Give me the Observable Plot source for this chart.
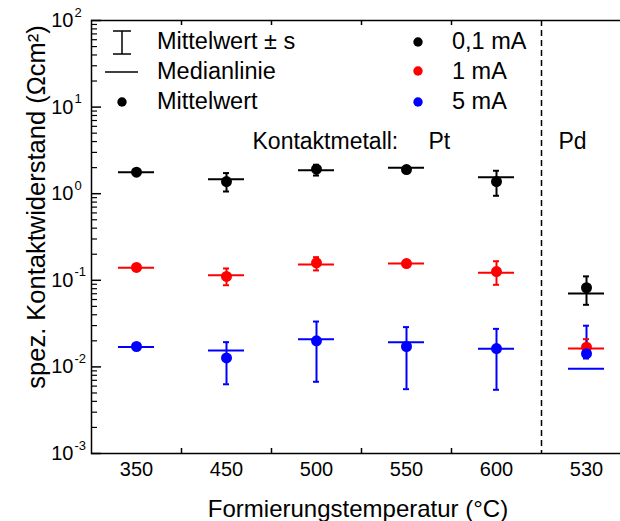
<!DOCTYPE html>
<html><head><meta charset="utf-8">
<script src="https://cdn.jsdelivr.net/npm/d3@7"></script>
<script src="https://cdn.jsdelivr.net/npm/@observablehq/plot@0.6"></script>
<style>
html,body{margin:0;padding:0;background:#fff;overflow:hidden;}
#chart{width:620px;height:521px;overflow:hidden;}
#chart svg{max-width:none !important;}
</style></head><body><div id="chart"></div>
<script>
// categories (Formierungstemperatur) – last one is the Pd sample
const categories = ["350","450","500","550","600","530"];
const series = ["0,1 mA","1 mA","5 mA"];
const colors = ["#000000","#ff0000","#0000ff"];
const legendLabels = ["Mittelwert ± s","Medianlinie","Mittelwert"];

// 0,1 mA
const mean01   = [1.77, 1.38, 1.92, 1.90, 1.38, 0.082];
const median01 = [1.77, 1.47, 1.87, 1.99, 1.55, 0.0705];
const lo01     = [1.68, 1.06, 1.62, 1.82, 0.946, 0.0521];
const hi01     = [1.86, 1.73, 2.16, 1.98, 1.84, 0.111];
// 1 mA
const mean1    = [0.141, 0.111, 0.159, 0.156, 0.126, 0.0169];
const median1  = [0.140, 0.114, 0.152, 0.156, 0.122, 0.0163];
const lo1      = [0.135, 0.0877, 0.130, 0.150, 0.0887, 0.0129];
const hi1      = [0.147, 0.137, 0.185, 0.162, 0.166, 0.0209];
// 5 mA
const mean5    = [0.0172, 0.0127, 0.0200, 0.0172, 0.0163, 0.0142];
const median5  = [0.0170, 0.0155, 0.0209, 0.0193, 0.0162, 0.0095];
const lo5      = [0.0164, 0.0063, 0.00673, 0.00553, 0.00544, 0.0125];
const hi5      = [0.0180, 0.0193, 0.0334, 0.0288, 0.0275, 0.0299];

const yMajor = [1e-3, 1e-2, 1e-1, 1e0, 1e1, 1e2];
const yExponents = ["-3","-2","-1","0","1","2"];
const yMinor = [];
for (let e = -3; e < 2; e++) for (let k = 2; k <= 9; k++) yMinor.push(k * Math.pow(10, e));
const boundaryCats = ["350","450","500","550"];

const table = [];
[[mean01,median01,lo01,hi01],[mean1,median1,lo1,hi1],[mean5,median5,lo5,hi5]].forEach((s, si) => {
  categories.forEach((c, i) => table.push({cat: c, series: series[si], mean: s[0][i], median: s[1][i], lo: s[2][i], hi: s[3][i]}));
});

const font = "Arial, 'Liberation Sans', sans-serif";
const svg = Plot.plot({
  width: 640, height: 521,
  marginLeft: 91, marginRight: 9, marginTop: 20, marginBottom: 68,
  x: {type: "band", domain: categories, paddingInner: 0, paddingOuter: 0, axis: null},
  y: {type: "log", domain: [1e-3, 1e2], axis: null},
  color: {domain: series, range: colors},
  style: {fontFamily: font, background: "white", maxWidth: "none", color: "black"},
  marks: [
    Plot.frame({stroke: "black", strokeWidth: 1.5}),
    Plot.ruleY(yMinor, {y: d => d, insetRight: 534, stroke: "black", strokeWidth: 1.2}),
    Plot.ruleY(yMajor, {y: d => d, insetRight: 530, stroke: "black", strokeWidth: 1.5}),
    Plot.ruleX(boundaryCats, {x: d => d, dx: 45, insetBottom: 428, stroke: "black", strokeWidth: 1.5}),
    Plot.ruleX(boundaryCats, {x: d => d, dx: 45, insetTop: 428, stroke: "black", strokeWidth: 1.5}),
    Plot.ruleX(["600"], {x: d => d, dx: 45, stroke: "black", strokeWidth: 1.5, strokeDasharray: "6,4"}),
    // error bars
    Plot.ruleX(table, {x: "cat", y1: "lo", y2: "hi", stroke: "series", strokeWidth: 2}),
    Plot.tickY(table, {x: "cat", y: "lo", stroke: "series", strokeWidth: 2, insetLeft: 42, insetRight: 42}),
    Plot.tickY(table, {x: "cat", y: "hi", stroke: "series", strokeWidth: 2, insetLeft: 42, insetRight: 42}),
    // median lines
    Plot.tickY(table, {x: "cat", y: "median", stroke: "series", strokeWidth: 2, insetLeft: 27, insetRight: 27}),
    // means
    Plot.dot(table, {x: "cat", y: "mean", fill: "series", r: 5.5}),
    // y tick labels
    Plot.text(yMajor, {y: d => d, text: () => "10", frameAnchor: "left", textAnchor: "end", lineAnchor: "middle", dx: -18, fontSize: 20}),
    Plot.text(yMajor, {y: d => d, text: (d, i) => yExponents[i], frameAnchor: "left", textAnchor: "start", lineAnchor: "middle", dx: -17, dy: -8, fontSize: 13}),
    // x tick labels
    Plot.text(categories, {x: d => d, text: d => d, frameAnchor: "bottom", lineAnchor: "middle", dy: 16, fontSize: 20}),
    // axis titles
    Plot.text(["Formierungstemperatur (°C)"], {frameAnchor: "bottom", text: d => d, textAnchor: "middle", lineAnchor: "bottom", dx: -3.5, dy: 63, fontSize: 24}),
    Plot.text(["spez. Kontaktwiderstand (Ωcm²)"], {frameAnchor: "left", text: d => d, textAnchor: "middle", lineAnchor: "middle", rotate: -90, dx: -55, dy: -30, fontSize: 25.5}),
    // annotations
    Plot.text(["Kontaktmetall:"], {frameAnchor: "top-left", text: d => d, textAnchor: "start", lineAnchor: "bottom", dx: 161, dy: 128, fontSize: 23}),
    Plot.text(["Pt"], {frameAnchor: "top-left", text: d => d, textAnchor: "start", lineAnchor: "bottom", dx: 337, dy: 128, fontSize: 23}),
    Plot.text(["Pd"], {frameAnchor: "top-left", text: d => d, textAnchor: "start", lineAnchor: "bottom", dx: 467, dy: 128, fontSize: 23})
  ]
});
document.getElementById("chart").appendChild(svg);

// legend (symbols + texts placed in pixel space)
const s = d3.select(svg);
const leg = s.append("g").attr("font-family", font).attr("font-size", 23.5).attr("text-anchor", "start").attr("fill", "black");
const rowY = [48.5, 79, 109];
leg.append("line").attr("x1",122).attr("x2",122).attr("y1",31).attr("y2",54).attr("stroke","black").attr("stroke-width",1.5);
leg.append("line").attr("x1",113).attr("x2",131).attr("y1",31).attr("y2",31).attr("stroke","black").attr("stroke-width",1.5);
leg.append("line").attr("x1",113).attr("x2",131).attr("y1",54).attr("y2",54).attr("stroke","black").attr("stroke-width",1.5);
leg.append("line").attr("x1",105).attr("x2",138).attr("y1",72).attr("y2",72).attr("stroke","black").attr("stroke-width",1.5);
leg.append("circle").attr("cx",122).attr("cy",102).attr("r",4.7).attr("fill","black");
legendLabels.forEach((name, i) => {
  leg.append("text").attr("x",157).attr("y",rowY[i]).text(name);
});
series.forEach((name, i) => {
  leg.append("circle").attr("cx",418).attr("cy",[42,71,102][i]).attr("r",4.7).attr("fill",colors[i]);
  leg.append("text").attr("x",452).attr("y",rowY[i]).text(name);
});
</script></body></html>
